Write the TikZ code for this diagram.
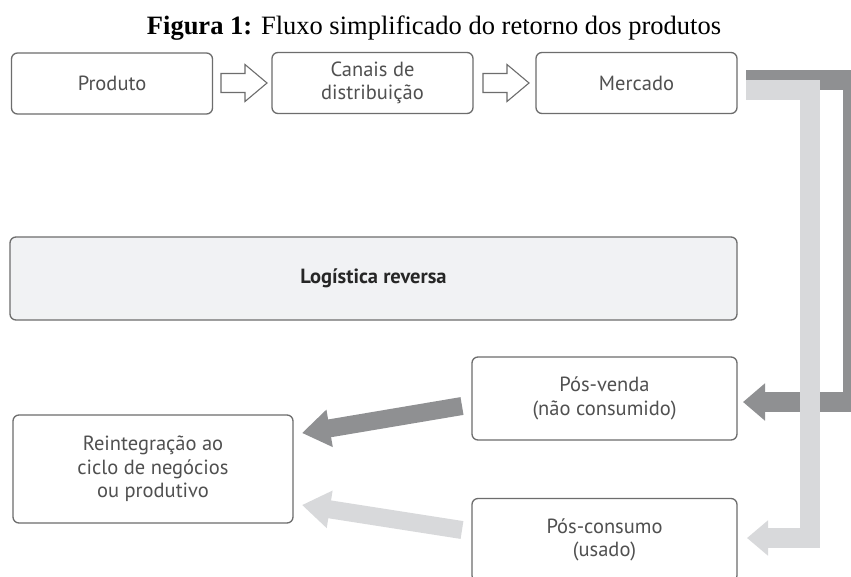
\documentclass[tikz,border=0pt]{standalone}
\usepackage{fontspec}
\setmainfont{Liberation Serif}
\newfontfamily\boxfont{PT Sans}
\usetikzlibrary{arrows.meta,calc}
\definecolor{boxline}{HTML}{6D6D6D}
\definecolor{boxtext}{HTML}{505050}
\definecolor{logfill}{HTML}{F1F2F4}
\definecolor{darkbar}{HTML}{8F9092}
\definecolor{lightbar}{HTML}{D8D9DB}
\tikzset{
  stagebox/.style={draw=boxline, line width=1.3pt, rounded corners=6pt, fill=white,
    text=boxtext, font=\boxfont\fontsize{20.5}{23.5}\selectfont, align=center,
    inner sep=0pt, minimum width=201pt, minimum height=61pt},
  hollowarrow/.style={draw=boxline, line width=1.1pt, fill=white, line join=miter},
  darkflow/.style={draw=darkbar, line width=20pt, line join=miter,
    -{Triangle[length=22pt,width=36pt]}},
  lightflow/.style={draw=lightbar, line width=20pt, line join=miter,
    -{Triangle[length=21pt,width=34pt]}},
  darkdiag/.style={draw=darkbar, line width=18pt, -{Triangle[length=28pt,width=36pt]}},
  lightdiag/.style={draw=lightbar, line width=18pt, -{Triangle[length=28pt,width=36pt]}}
}
\begin{document}
\begin{tikzpicture}[x=1pt,y=-1pt]
\clip (0,0) rectangle (851,576);
\fill[white] (0,0) rectangle (851,576);

% title
\node[font=\fontsize{26.5}{29}\selectfont, inner sep=0pt] (title) at (434,28)
  {\textbf{Figura 1:} Fluxo simplificado do retorno dos produtos};

% top row
\node[stagebox] (prod) at (112,83.5) {Produto};
\node[stagebox] (canais) at (372.5,83) {Canais de\\distribuição};
\node[stagebox] (merc) at (636.5,83) {Mercado};

% hollow arrows
\draw[hollowarrow, shift={(221,83)}] (0,-9.5) -- (24,-9.5) -- (24,-18.5) -- (46,0) -- (24,18.5) -- (24,9.5) -- (0,9.5) -- cycle;
\draw[hollowarrow, shift={(483,83)}] (0,-9.5) -- (24,-9.5) -- (24,-18.5) -- (46,0) -- (24,18.5) -- (24,9.5) -- (0,9.5) -- cycle;

% logistica reversa
\node[stagebox, fill=logfill, minimum width=727pt, minimum height=83pt,
  font=\boxfont\bfseries\fontsize{20.5}{23.5}\selectfont, text=black!85] (log) at (373.5,278.5) {Logística reversa};

% lower boxes
\node[stagebox, minimum width=265pt, minimum height=83pt] (posv) at (604.5,398.5) {Pós-venda\\(não consumido)};
\node[stagebox, minimum width=265pt, minimum height=83pt] (posc) at (604.5,540) {Pós-consumo\\(usado)};
\node[stagebox, minimum width=280pt, minimum height=108pt] (reint) at (153,469) {Reintegração ao\\ciclo de negócios\\ou produtivo};

% return flows from market
\coordinate (dstart) at (746,80);
\coordinate (lstart) at (746,90);
\coordinate (dend) at (743,402);
\coordinate (lend) at (747,538);
\draw[darkflow] (dstart) -- (853,80) -- (853,402) -- (dend);
\draw[lightflow] (lstart) -- (810,90) -- (810,538) -- (lend);

% diagonal arrows to reintegration
\coordinate (dt) at (462,406);
\coordinate (dh) at (302,433);
\coordinate (lt) at (462,530);
\coordinate (lh) at (302,505);
\draw[darkdiag] (dt) -- (dh);
\draw[lightdiag] (lt) -- (lh);
\end{tikzpicture}
\end{document}
